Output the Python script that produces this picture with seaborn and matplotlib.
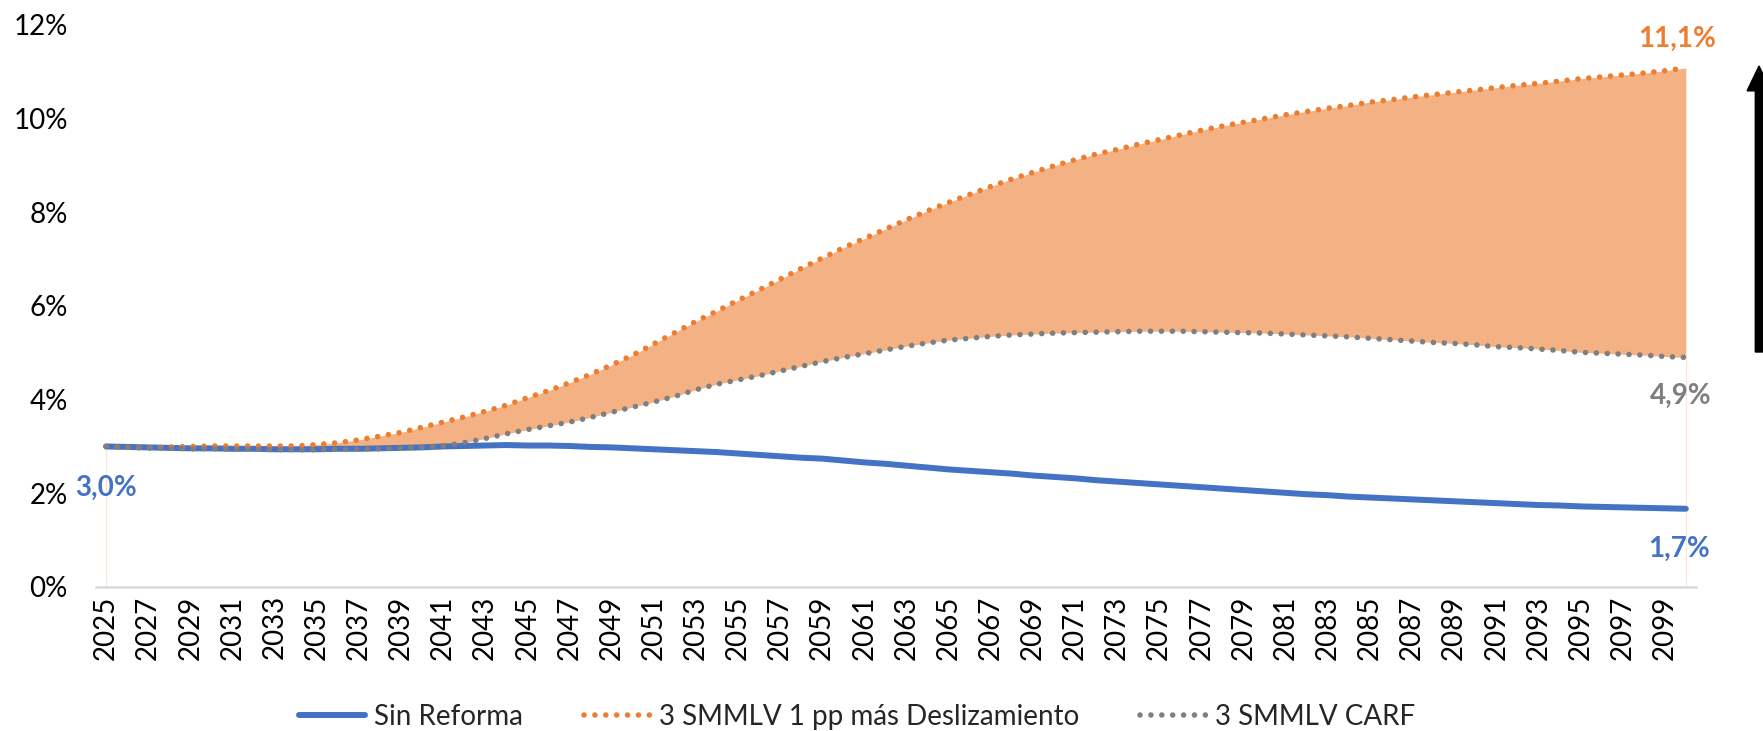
import numpy as np
import pandas as pd
import matplotlib
matplotlib.use("Agg")
import matplotlib.pyplot as plt
import seaborn as sns

# Years of the projection
years = list(range(2025, 2101))

# Pension spending as % of GDP, by scenario
sin_reforma = [
    3.00, 2.99, 2.98, 2.97, 2.96, 2.96, 2.95, 2.95, 2.94, 2.94,
    2.94, 2.95, 2.95, 2.96, 2.97, 2.98, 3.00, 3.01, 3.02, 3.03,
    3.02, 3.02, 3.01, 2.99, 2.98, 2.96, 2.94, 2.92, 2.90, 2.88,
    2.85, 2.82, 2.79, 2.76, 2.74, 2.70, 2.66, 2.63, 2.59, 2.55,
    2.51, 2.48, 2.45, 2.42, 2.38, 2.35, 2.32, 2.28, 2.25, 2.22,
    2.19, 2.16, 2.13, 2.10, 2.07, 2.04, 2.01, 1.98, 1.96, 1.93,
    1.91, 1.89, 1.87, 1.85, 1.83, 1.81, 1.79, 1.77, 1.75, 1.74,
    1.72, 1.71, 1.70, 1.69, 1.68, 1.67,
]
deslizamiento = [
    3.00, 2.98, 2.97, 2.99, 3.00, 3.01, 3.01, 3.01, 3.01, 3.01,
    3.04, 3.08, 3.14, 3.22, 3.30, 3.41, 3.52, 3.63, 3.75, 3.88,
    4.04, 4.19, 4.36, 4.54, 4.74, 4.95, 5.19, 5.43, 5.67, 5.89,
    6.12, 6.34, 6.57, 6.80, 7.02, 7.24, 7.44, 7.64, 7.84, 8.03,
    8.21, 8.38, 8.55, 8.71, 8.85, 8.99, 9.12, 9.24, 9.34, 9.45,
    9.55, 9.65, 9.75, 9.84, 9.92, 10.00, 10.08, 10.15, 10.22, 10.28,
    10.35, 10.40, 10.46, 10.51, 10.56, 10.61, 10.66, 10.71, 10.75, 10.80,
    10.85, 10.89, 10.93, 10.97, 11.02, 11.08,
]
carf = [
    3.00, 2.98, 2.97, 2.96, 2.95, 2.95, 2.94, 2.94, 2.93, 2.93,
    2.93, 2.94, 2.94, 2.95, 2.97, 2.98, 3.01, 3.08, 3.17, 3.27,
    3.36, 3.44, 3.52, 3.62, 3.73, 3.84, 3.95, 4.07, 4.21, 4.33,
    4.42, 4.51, 4.61, 4.71, 4.81, 4.90, 4.98, 5.06, 5.14, 5.21,
    5.27, 5.31, 5.35, 5.38, 5.40, 5.42, 5.43, 5.44, 5.45, 5.46,
    5.46, 5.46, 5.45, 5.44, 5.43, 5.42, 5.40, 5.38, 5.36, 5.34,
    5.31, 5.28, 5.25, 5.22, 5.20, 5.17, 5.13, 5.11, 5.08, 5.05,
    5.01, 4.99, 4.97, 4.95, 4.92, 4.90,
]

series_names = ["Sin Reforma", "3 SMMLV 1 pp más Deslizamiento", "3 SMMLV CARF"]
y_ticks = [0, 2, 4, 6, 8, 10, 12]
x_tick_years = list(range(2025, 2100, 2))

df = pd.DataFrame({"year": years, series_names[0]: sin_reforma,
                   series_names[1]: deslizamiento, series_names[2]: carf})

BLUE = "#4472C4"
ORANGE = "#ED7D31"
GRAY = "#7F7F7F"
FILL = "#F4B183"

sns.set_theme(style="white")
plt.rcParams["font.family"] = ["Lato", "DejaVu Sans"]

fig = plt.figure(figsize=(17.63, 7.31), dpi=100)
ax = fig.add_axes([0.0542, 0.197, 0.908, 0.769])

# shaded band between the two reform scenarios
ax.fill_between(df["year"], df[series_names[2]], df[series_names[1]],
                color=FILL, lw=0, zorder=1)
# faint edges of the band at both ends
ax.vlines([years[0], years[-1]], 0, [carf[0], carf[-1]],
          color="#FBE5D6", lw=0.8, zorder=1)

dots = (0, (0.01, 1.95))
sns.lineplot(data=df, x="year", y=series_names[0], ax=ax, color=BLUE,
             linewidth=4.3, solid_capstyle="round", label=series_names[0], zorder=3)
sns.lineplot(data=df, x="year", y=series_names[1], ax=ax, color=ORANGE,
             linewidth=4.0, linestyle=dots, dash_capstyle="round",
             label=series_names[1], zorder=4)
sns.lineplot(data=df, x="year", y=series_names[2], ax=ax, color=GRAY,
             linewidth=4.0, linestyle=dots, dash_capstyle="round",
             label=series_names[2], zorder=5)

ax.set_xlim(years[0] - 0.5, years[-1] + 0.5)
ax.set_ylim(0, 12)
ax.set_yticks(y_ticks)
ax.set_yticklabels([f"{t}%" for t in y_ticks])
ax.set_xticks(x_tick_years)
ax.set_xticklabels([str(y) for y in x_tick_years], rotation=90)
ax.tick_params(axis="y", length=0, pad=20, labelsize=20, labelcolor="black")
ax.tick_params(axis="x", length=0, pad=6, labelsize=20, labelcolor="black")
ax.set_xlabel("")
ax.set_ylabel("")
ax.grid(False)
for side in ["top", "right", "left"]:
    ax.spines[side].set_visible(False)
ax.spines["bottom"].set_color("#D9D9D9")
ax.spines["bottom"].set_linewidth(1.8)


def fmt(v):
    return f"{v:.1f}".replace(".", ",") + "%"


label_font = dict(fontsize=20, fontweight="bold", ha="center", va="center")
ax.annotate(fmt(sin_reforma[0]), (years[0], sin_reforma[0]), xytext=(0, -30),
            textcoords="offset points", color=BLUE, **label_font)
ax.annotate(fmt(deslizamiento[-1]), (years[-1], deslizamiento[-1]), xytext=(-6, 21),
            textcoords="offset points", color=ORANGE, **label_font)
ax.annotate(fmt(carf[-1]), (years[-1], carf[-1]), xytext=(-4, -28),
            textcoords="offset points", color=GRAY, **label_font)
ax.annotate(fmt(sin_reforma[-1]), (years[-1], sin_reforma[-1]), xytext=(-5, -29),
            textcoords="offset points", color=BLUE, **label_font)

# upward arrow at the right margin
fig.add_artist(matplotlib.patches.FancyArrow(
    1759 / 1763, 1 - 352 / 731, 0, (352 - 66) / 731,
    width=0.0042, head_width=0.0135, head_length=0.034,
    length_includes_head=True, color="black", transform=fig.transFigure))

ax.get_legend().remove()
handles, labels = ax.get_legend_handles_labels()
fig.legend(handles, labels, loc="lower center", bbox_to_anchor=(0.486, -0.033),
           ncol=3, frameon=False, fontsize=20, handlelength=2.4,
           handletextpad=0.3, columnspacing=2.2)

fig.savefig("out.png", dpi=100)
